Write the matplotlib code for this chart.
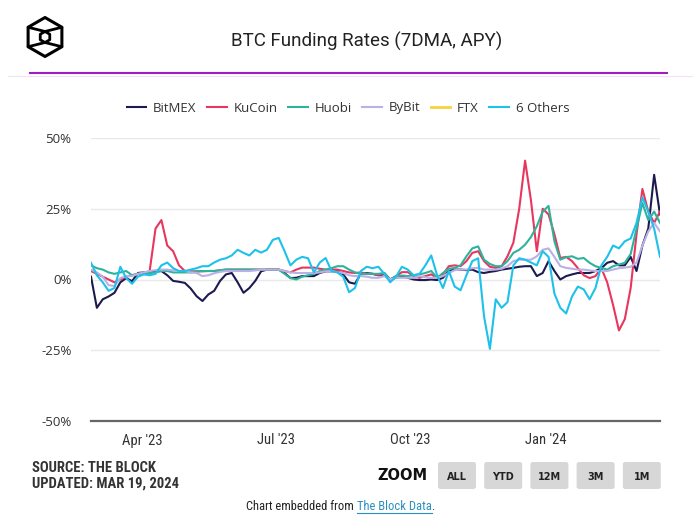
import matplotlib
matplotlib.use("Agg")
import matplotlib.pyplot as plt
import matplotlib.dates as mdates
from matplotlib.lines import Line2D
from matplotlib.patches import FancyBboxPatch, Polygon
import numpy as np
import pandas as pd

# ---------------- data (APY %, 7DMA), sampled every 4 days ----------------
start_date = "2023-02-25"
n_points = 98
dates = pd.date_range(start_date, periods=n_points, freq="4D")

bitmex = [1, -10, -7, -6, -4.7, -1, 0.5, -0.6, 2.3, 2.5,
          2.3, 2.9, 3, 1.5, -0.5, -0.8, -1.2, -3.2, -5.9, -7.6,
          -5.3, -4, -0.5, 1.8, 2.3, -1, -4.7, -3, -0.5, 2.9,
          3.5, 3.5, 3.5, 2.3, 0.5, 0.6, 1.2, 1.2, 1.2, 2.3,
          2.9, 2.9, 2.9, 1.8, -1, -1.5, 2, 2.3, 2, 1.5,
          1.8, 0, 0.6, 1.2, 0.6, 0, -0.2, -0.2, 0, -0.2,
          0.6, 3, 3.5, 3.5, 3.3, 3.5, 2.6, 2.3, 2.7, 3,
          3.5, 3.8, 4.1, 4.5, 4.7, 4.7, 1.2, 2.3, 6.5, 3,
          0, 1.2, 1.8, 2.3, 2.3, 2.3, 3, 4, 5.9, 6.5,
          5, 5, 8, 3, 12, 18, 37, 23]

kucoin = [3, 2, 1, 0, -1, 0, 1, 1.5, 2, 2,
          3, 18, 21, 12, 10, 5, 3, 2.9, 2.9, 2.9,
          3, 3, 3.2, 3.5, 3.5, 3.5, 3.5, 3.5, 3.5, 3.5,
          3.5, 3.5, 3.5, 3, 2.5, 3.5, 4.2, 4.2, 4.2, 3.8,
          3.5, 3.5, 3.5, 3, 2.5, 2.3, 2.5, 2, 2, 1.5,
          2.3, 0, 1.2, 2.6, 2.6, 1.2, 0.6, 1.2, 1.8, 0.6,
          1.8, 4.7, 5, 4.7, 6.5, 9.4, 10, 6.5, 4.5, 4.1,
          4.7, 8.2, 13, 25, 42, 28, 10, 25, 23, 16,
          7.6, 8, 6.5, 4, 1.5, 0.5, 1.2, 4, -1, -9,
          -18, -14, -3, 16, 32, 24, 20, 24]

huobi = [5, 4, 3.5, 2.5, 2, 2.5, 3, 1.5, 2, 2,
         2.3, 2.5, 3, 3, 2.5, 2.5, 2.5, 2.5, 2.8, 3,
         3, 3, 3.3, 3.5, 3.5, 3.5, 3.5, 3.5, 3.5, 3.5,
         3.5, 3.5, 3.5, 2, 0.5, 0, 1, 1.5, 2, 3,
         3.5, 4, 4.7, 4.7, 3.5, 2.5, 2, 2, 2, 2,
         2.3, 0, 1.2, 1.4, 1.2, 1.5, 1.8, 2.3, 3, 0.6,
         2.3, 3.8, 4.1, 5, 8.2, 11, 11.7, 7, 5.5, 4.7,
         4.7, 6.5, 9.4, 10.5, 12.3, 15, 18.8, 24, 26, 13.5,
         7, 7.9, 8.2, 7.3, 7.6, 5.9, 4.7, 4.1, 3.5, 4.7,
         5.3, 5.9, 9, 18, 27, 21, 24, 20]

bybit = [3.5, 2.5, 1, -2, -2.3, 0.5, 1.2, 1.2, 2, 2.5,
         3, 3.3, 3.5, 3.5, 3.2, 3, 3, 2.5, 2.3, 1.2,
         1.5, 2.2, 2.7, 3, 3, 3, 3, 3, 3.2, 3.5,
         3.5, 3.5, 3.5, 3, 2.5, 2.3, 2.3, 2.3, 2.3, 2.5,
         2.9, 3, 2.6, 2.3, 1.5, 1.2, 1.2, 1, 0.6, 0.6,
         1.2, 0, 0.6, 0.6, 0.6, 0.6, 1.2, 0.8, 0.6, 0.6,
         1.2, 2.3, 3.3, 3.5, 3.5, 4, 4.1, 3.5, 3.5, 3.5,
         3.8, 4.7, 6.5, 7, 7, 7, 8.2, 10.5, 11, 8,
         4.7, 4.1, 3.8, 3.5, 3.5, 3.2, 3, 3, 3, 3.5,
         4, 4.2, 4.5, 6, 12, 17, 20, 17]

others = [5.9, 1.5, -1, -4, -3, 4.5, 0.5, -1.5, 1, 1.8,
          1.5, 2, 5, 6, 4, 3, 3, 3.5, 4, 4.7,
          4.7, 6, 7, 7.5, 8.5, 10.5, 9.4, 8.5, 10.5, 9.5,
          10.5, 14, 14.7, 10, 5, 7, 8, 7.5, 2.5, 6,
          7.6, 3, 2.5, 1, -4.5, -3, 3, 4.5, 4, 4.5,
          2, -1, 1, 4.5, 3.5, 1.5, 2, 5, 8.5, 1.5,
          -3, 3, -2.5, -3.8, 1.5, 6.5, 7.5, -13, -24.5, -7,
          -10, -8, 5, 7.5, 7, 6, 5, 10, 8, -5,
          -10, -12, -6, -2.5, -3.5, -7, -3, 5, 8, 12,
          11, 13.5, 14.5, 20, 29, 24, 18, 8]

series_names = ["BitMEX", "KuCoin", "Huobi", "ByBit", "FTX", "6 Others"]
series_colors = ["#1c1a4f", "#e8365d", "#2db39b", "#b9b1e6", "#f7d23e", "#1ec1ea"]
series_values = {"BitMEX": bitmex, "KuCoin": kucoin, "Huobi": huobi,
                 "ByBit": bybit, "FTX": None, "6 Others": others}

y_ticks = [-50, -25, 0, 25, 50]
x_ticks = ["2023-04-01", "2023-07-01", "2023-10-01", "2024-01-01"]
zoom_buttons = ["ALL", "YTD", "12M", "3M", "1M"]

# ---------------- figure ----------------
W, H = 700, 529
fig = plt.figure(figsize=(W / 100, H / 100), dpi=100)
fig.patch.set_facecolor("white")

def fx(x):
    return x / W

def fy(y):
    return 1 - y / H

TXT = "#333333"
COND = ["Liberation Sans Narrow", "Roboto Condensed", "DejaVu Sans"]

# header logo: hollow cube outline
cx, cy, R = 45, 37, 19.5
ang = np.deg2rad([90, 30, -30, -90, -150, 150])
outer = [(cx + R * np.cos(a), cy - R * np.sin(a)) for a in ang]
r = 5.5
inner = [(cx + r * np.cos(a), cy - r * np.sin(a)) for a in ang]
fig.add_artist(Polygon([(fx(x), fy(y)) for x, y in outer], closed=True, fill=False,
                       edgecolor="black", lw=2.2, transform=fig.transFigure, joinstyle="round"))
fig.add_artist(Polygon([(fx(x), fy(y)) for x, y in inner], closed=True, fill=False,
                       edgecolor="black", lw=2.0, transform=fig.transFigure, joinstyle="round"))
for (o, i_) in [(outer[5], inner[0]), (outer[1], inner[0]), (outer[4], inner[3]), (outer[2], inner[3])]:
    fig.add_artist(Line2D([fx(o[0]), fx(i_[0])], [fy(o[1]), fy(i_[1])], color="black", lw=2.0,
                          transform=fig.transFigure, solid_capstyle="round"))

fig.text(fx(367), fy(41), "BTC Funding Rates (7DMA, APY)", ha="center", va="center",
         fontsize=13.5, color="#222222", family=["Roboto", "DejaVu Sans"])

fig.add_artist(Line2D([fx(30), fx(667)], [fy(73), fy(73)], color="#a11fc0", lw=1.5,
                      transform=fig.transFigure))
fig.add_artist(Line2D([fx(8), fx(692)], [fy(75.5), fy(75.5)], color="#efe3f3", lw=0.8,
                      transform=fig.transFigure))

# ---------------- axes ----------------
ax = fig.add_axes([fx(91), fy(421), (660 - 91) / W, (421 - 138) / H])
ax.set_facecolor("white")
for name, col in zip(series_names, series_colors):
    vals = series_values[name]
    if vals is None:
        ax.plot([], [], color=col, lw=2, label=name)
    else:
        ax.plot(dates, vals, color=col, lw=1.5, label=name, solid_joinstyle="round")

ax.set_xlim(dates[0], dates[-1])
ax.set_ylim(-50, 50)
ax.set_yticks(y_ticks)
ax.set_yticklabels([f"{v}%" for v in y_ticks], family=["Open Sans", "DejaVu Sans"],
                   fontsize=9.5, color=TXT)
ax.set_xticks(pd.to_datetime(x_ticks))
ax.xaxis.set_major_formatter(mdates.DateFormatter("%b '%y"))
for lab in ax.get_xticklabels():
    lab.set_family(COND)
    lab.set_fontsize(10.5)
    lab.set_color(TXT)
ax.tick_params(axis="both", length=0)
ax.tick_params(axis="y", pad=14)
ax.tick_params(axis="x", pad=9)
ax.grid(axis="y", color="#e9e9e9", lw=1)
ax.set_axisbelow(True)
for s in ["top", "right", "left"]:
    ax.spines[s].set_visible(False)
ax.spines["bottom"].set_color("#666666")
ax.spines["bottom"].set_linewidth(1.6)

leg = fig.legend(loc="center", bbox_to_anchor=(fx(348), fy(108)), ncol=6, frameon=False,
                 handlelength=1.5, handletextpad=0.5, columnspacing=0.8,
                 prop={"family": ["Open Sans", "DejaVu Sans"], "size": 9.5})
for t in leg.get_texts():
    t.set_color(TXT)

# ---------------- footer ----------------
fig.text(fx(32), fy(468), "SOURCE: THE BLOCK", ha="left", va="center", fontsize=10.5,
         color=TXT, family=COND, fontweight="bold")
fig.text(fx(32), fy(484), "UPDATED: MAR 19, 2024", ha="left", va="center", fontsize=10.5,
         color=TXT, family=COND, fontweight="bold")
fig.text(fx(428), fy(476), "ZOOM", ha="right", va="center", fontsize=10.5,
         color="#111111", family=["DejaVu Sans"], fontweight="bold")
bx0, bw, bstep = 438, 38, 46.2
for k, lab in enumerate(zoom_buttons):
    x0 = bx0 + k * bstep
    fig.add_artist(FancyBboxPatch((fx(x0), fy(489)), bw / W, 27 / H,
                                  boxstyle="round,pad=0,rounding_size=0.004",
                                  facecolor="#d7d7d7", edgecolor="none",
                                  transform=fig.transFigure))
    fig.text(fx(x0 + bw / 2), fy(476.5), lab, ha="center", va="center", fontsize=7,
             color="#222222", family=["DejaVu Sans"], fontweight="bold")

fig.canvas.draw()
renderer = fig.canvas.get_renderer()
t1 = fig.text(fx(246), fy(507), "Chart embedded from ", ha="left", va="center", fontsize=9,
              color="#222222", family=COND)
bb1 = t1.get_window_extent(renderer)
t2 = fig.text(bb1.x1 / (W), fy(507), "The Block Data", ha="left", va="center", fontsize=9,
              color="#2a8fc0", family=COND)
bb2 = t2.get_window_extent(renderer)
fig.text(bb2.x1 / W, fy(507), ".", ha="left", va="center", fontsize=9,
         color="#222222", family=COND)
fig.add_artist(Line2D([bb2.x0 / W, bb2.x1 / W], [fy(513), fy(513)], color="#2a8fc0", lw=0.8,
                      transform=fig.transFigure))

fig.savefig("out.png", dpi=100, facecolor="white")
